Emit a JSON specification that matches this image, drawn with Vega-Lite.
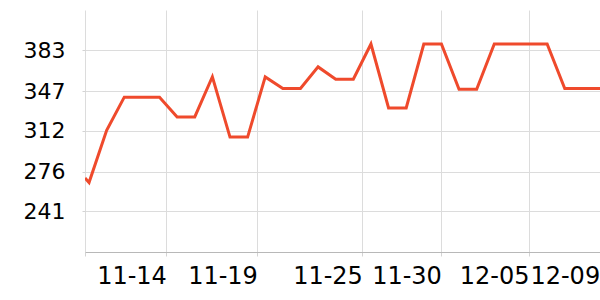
{
  "$schema": "https://vega.github.io/schema/vega-lite/v6.json",
  "width": 515,
  "height": 242,
  "autosize": {"type": "none"},
  "padding": {"left": 85, "top": 10, "right": 0, "bottom": 48},
  "background": "white",
  "config": {"view": {"stroke": null}, "font": "DejaVu Sans"},
  "data": {
    "values": [
      {"date": "2023-11-10T00:30", "value": 270.2},
      {"date": "2023-11-10T06:00", "value": 266.3},
      {"date": "2023-11-11T06:00", "value": 312.3},
      {"date": "2023-11-12T06:00", "value": 341.6},
      {"date": "2023-11-13T06:00", "value": 341.6},
      {"date": "2023-11-14T06:00", "value": 341.6},
      {"date": "2023-11-15T06:00", "value": 324.2},
      {"date": "2023-11-16T06:00", "value": 324.2},
      {"date": "2023-11-17T06:00", "value": 359.6},
      {"date": "2023-11-18T06:00", "value": 306.4},
      {"date": "2023-11-19T06:00", "value": 306.4},
      {"date": "2023-11-20T06:00", "value": 359.5},
      {"date": "2023-11-21T06:00", "value": 349.2},
      {"date": "2023-11-22T06:00", "value": 349.2},
      {"date": "2023-11-23T06:00", "value": 368.3},
      {"date": "2023-11-24T06:00", "value": 357.4},
      {"date": "2023-11-25T06:00", "value": 357.4},
      {"date": "2023-11-26T06:00", "value": 388.5},
      {"date": "2023-11-27T06:00", "value": 332.1},
      {"date": "2023-11-28T06:00", "value": 332.1},
      {"date": "2023-11-29T06:00", "value": 388.5},
      {"date": "2023-11-30T06:00", "value": 388.5},
      {"date": "2023-12-01T06:00", "value": 348.6},
      {"date": "2023-12-02T06:00", "value": 348.6},
      {"date": "2023-12-03T06:00", "value": 388.5},
      {"date": "2023-12-04T06:00", "value": 388.5},
      {"date": "2023-12-05T06:00", "value": 388.5},
      {"date": "2023-12-06T06:00", "value": 388.5},
      {"date": "2023-12-07T06:00", "value": 349.2},
      {"date": "2023-12-08T06:00", "value": 349.2},
      {"date": "2023-12-09T06:00", "value": 349.2}
    ]
  },
  "mark": {"type": "line", "color": "#ef4a2c", "strokeWidth": 3, "clip": true},
  "encoding": {
    "x": {
      "field": "date",
      "type": "temporal",
      "title": null,
      "scale": {"nice": false},
      "axis": {
        "values": [
          {"year": 2023, "month": "nov", "date": 10, "hours": 0, "minutes": 30},
          {"year": 2023, "month": "nov", "date": 14, "hours": 15, "minutes": 23},
          {"year": 2023, "month": "nov", "date": 19, "hours": 19, "minutes": 19},
          {"year": 2023, "month": "nov", "date": 25, "hours": 18, "minutes": 21},
          {"year": 2023, "month": "nov", "date": 30, "hours": 5, "minutes": 57},
          {"year": 2023, "month": "dec", "date": 5, "hours": 5, "minutes": 17},
          {"year": 2023, "month": "dec", "date": 9, "hours": 5, "minutes": 33}
        ],
        "labelExpr": "datum.value < datetime(2023, 10, 11) ? '' : timeFormat(datum.value, '%m-%d')",
        "labelAlign": "right",
        "labelBaseline": "top",
        "labelFontSize": 24,
        "labelColor": "#000000",
        "labelPadding": 8,
        "labelFlush": false,
        "labelOverlap": false,
        "tickSize": 4,
        "tickColor": "#d4d4d4",
        "grid": true,
        "gridColor": "#dcdcdc",
        "domainColor": "#b8b8b8"
      }
    },
    "y": {
      "field": "value",
      "type": "quantitative",
      "title": null,
      "scale": {"domain": [205, 418.5], "nice": false, "zero": false},
      "axis": {
        "values": [241, 276, 312, 347, 383],
        "labelFontSize": 22,
        "labelColor": "#000000",
        "labelPadding": 17,
        "tickSize": 3,
        "tickColor": "#d4d4d4",
        "domain": false,
        "grid": true,
        "gridColor": "#dcdcdc"
      }
    }
  }
}
